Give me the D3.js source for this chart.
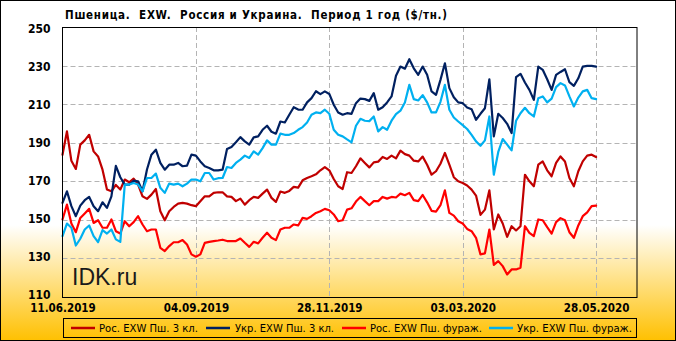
<!DOCTYPE html>
<html><head><meta charset="utf-8">
<script src="https://cdn.jsdelivr.net/npm/d3@7/dist/d3.min.js"></script>
<style>body{margin:0;padding:0;overflow:hidden;background:#fff}</style>
</head><body>
<svg id="chart" width="676" height="341"></svg>
<script>
// ---- data (sampled every 2 trading days, index 0 = 11.06.2019) ----
const step = 2;
const xTickIndex = [0, 60, 120, 180, 240];
const xTickLabels = ["11.06.2019", "04.09.2019", "28.11.2019", "03.03.2020", "28.05.2020"];
const yTicks = [110, 130, 150, 170, 190, 210, 230, 250];
const seriesNames = ["Рос. EXW Пш. 3 кл.", "Укр. EXW Пш. 3 кл.", "Рос. EXW Пш. фураж.", "Укр. EXW Пш. фураж."];
const seriesColors = ["#C00000", "#002060", "#FF0000", "#00B0F0"];

const rus3 = [183.8,195.9,180.6,176.4,189,191.2,194.1,185.5,182.9,176,165.7,164.8,168.1,165.7,170.9,169.5,171.4,168.3,162.2,160.9,163.1,166,154.5,149.8,154.5,156.7,158.4,158.8,158.4,157.6,157.1,159.7,
 162.2,162.2,164,164.3,164.3,162.2,161.9,159.7,161,157.9,160.2,161.9,161.4,163.6,165.7,161.4,159.3,164.7,164,165,167.1,166.7,170.5,171.7,172.6,173.6,175.7,177.4,175.7,171.2,
 167.4,166,174.7,174.3,177.8,181.9,179.5,177.2,179.8,180.2,182.6,181.6,183.3,181.9,185.9,184.1,183.3,180.7,180.3,182.8,178.6,173.4,175.2,179.1,184.7,178.6,172.1,170,169.1,167.8,
 165.7,162.6,152.6,155.3,165.3,145,152.8,148.1,141.2,146.7,144.5,146.7,173.4,170,167.4,178.6,180.3,175.7,172.6,179.5,182.9,180.3,171.7,167.4,175.2,180.3,183.3,183.8,182.6];
const ukr3 = [158.8,164.8,157.1,151.9,157.4,160.2,161.9,157.1,154.5,159.1,156.2,162.2,178,172.1,168.3,168.3,170.3,170,164.8,176.1,183.8,186.4,179.5,176,178.6,178.6,179.5,177.8,178.1,183.8,183.3,180.3,
 177.8,176.9,175.7,175.7,176,186.7,187.8,190.2,192.9,190.7,189,192.8,193.3,196.7,198.8,195.7,194.7,201,200.5,204.5,208.4,207.2,207.1,210.9,213.1,216.7,215.2,216.6,215.3,209.7,
 205.7,204.5,205.3,205,210.5,212.9,212.6,211.7,215.7,207.1,208.4,210.9,214,224.7,229.5,228.4,233.3,228.6,225.2,229.5,225.2,216.6,214.8,222.6,231.2,218.3,213.6,210.9,210.5,208.3,
 207.4,201.9,205,207.9,222.9,193.3,205,202.8,199.8,195,224,225.7,221.2,217.4,212.2,229.5,227.8,222.9,217.4,225.2,226.7,228.1,221.4,219.5,223.4,229.5,229.8,229.8,229.5];
const rusFeed = [150.2,157.9,148.1,143.6,151,153.3,155.7,148.4,149.8,145.9,145.9,150.2,144.1,142.9,149.3,146.7,148.8,151.9,147.6,144.1,145,145,135.5,133.8,136.4,138.4,138.4,139.5,137.2,132.1,130.9,132.1,
 138.1,138.6,139,139.3,139.7,139,139,139,140.3,138.1,136,138.6,137.8,140.7,143.3,140.7,139.5,145,145.9,145.9,147.6,147.1,151,150.5,151.9,153.6,154.5,155.7,155,152.8,
 149.3,149.8,155.3,156,159.5,161.9,159.7,157.6,159.7,159.7,161.9,161,161.9,161.6,163.6,162.8,164,160.2,159.7,162.9,159.1,154.7,154.3,157.6,165.3,153.6,152.2,149.3,148.1,145.3,
 144.1,140.7,132.1,132.6,145,126.7,128.6,126,121.7,124.3,124.3,125.2,146.7,143.3,141.6,150.2,149.8,146.2,142.9,148.8,150.9,149.8,143.6,140.7,147.1,151.9,153.9,157.1,157.4];
const ukrFeed = [141.6,148.1,145.9,136.7,140.2,145,147.1,141.6,138.4,144.7,142.9,145,139.9,138.6,168.3,168.3,169.1,168.3,164.8,171.7,171.7,174,166.6,164,168.8,168.3,168.8,167.4,168.8,170.9,170.9,170,
 174.3,174.3,170.9,171.6,171.7,177.4,176.9,179.5,181.2,183.3,182.1,185.5,183.8,187.2,191.2,189,189,194.7,194.1,194.1,195,196.7,198.1,200.5,204.5,205.7,205.3,207.1,205,196.7,
 194.1,193.3,191.7,190.2,198.8,202.4,201.4,201.2,203.6,195.9,198.1,196.7,201.4,204.8,206.6,210.9,220,212.6,211.9,214.7,210.9,205.7,205.7,211.2,220,207.1,203.1,201,199.1,197.1,
 194.1,190.7,188.4,191.2,203.6,173.4,185.2,191.9,189,186,201.4,205.3,208.1,205.3,203.6,213.1,214,210.9,212.9,218.8,220.9,219.7,214,208.8,213.4,216.6,217.4,213.1,212.6];

const allSeries = [rus3, ukr3, rusFeed, ukrFeed];

// ---- layout ----
const W = 676, H = 341;
const plot = {left: 62.5, right: 637, top: 27, bottom: 297};
const svg = d3.select("#chart");
const defs = svg.append("defs");
const grad = defs.append("linearGradient").attr("id", "bg").attr("x1", 0).attr("y1", 0).attr("x2", 0).attr("y2", 1);
grad.append("stop").attr("offset", "0.66").attr("stop-color", "#FFFFFF");
grad.append("stop").attr("offset", "1").attr("stop-color", "#FFC000");
svg.append("rect").attr("x", 0).attr("y", 0).attr("width", W).attr("height", H).attr("fill", "url(#bg)");

const x = d3.scaleLinear().domain([0, 258.4]).range([plot.left, plot.right]);
const y = d3.scaleLinear().domain([110, 250]).range([plot.bottom, plot.top]);
const yLab = d3.scaleLinear().domain([110, 250]).range([294.5, 28.5]);

const FONT = "'DejaVu Sans Condensed','DejaVu Sans',sans-serif";

// gridlines
svg.append("g").selectAll("line").data(yTicks.filter(d => d > 110 && d < 250)).join("line")
  .attr("x1", plot.left).attr("x2", plot.right)
  .attr("y1", d => Math.round(y(d)) + 0.5).attr("y2", d => Math.round(y(d)) + 0.5)
  .attr("stroke", "#B4B4B4").attr("stroke-width", 1).attr("stroke-dasharray", "5,3");
svg.append("g").selectAll("line").data(xTickIndex.slice(1)).join("line")
  .attr("y1", plot.top).attr("y2", plot.bottom)
  .attr("x1", d => Math.round(x(d)) + 0.5).attr("x2", d => Math.round(x(d)) + 0.5)
  .attr("stroke", "#B4B4B4").attr("stroke-width", 1).attr("stroke-dasharray", "5,3");

// "IDK.ru" watermark
svg.append("text").attr("x", 72).attr("y", 285).text("IDK.ru")
  .attr("font-family", "'Liberation Sans',Arial,sans-serif").attr("font-size", 23).attr("fill", "#1a1a1a");

// series
const line = d3.line().x((d, i) => x(i * step)).y(d => y(d));
allSeries.forEach((s, k) => {
  svg.append("path").datum(s).attr("d", line).attr("fill", "none")
    .attr("stroke", seriesColors[k]).attr("stroke-width", 2.2)
    .attr("stroke-linejoin", "round").attr("stroke-linecap", "round");
});

// plot border
svg.append("rect").attr("x", plot.left).attr("y", plot.top + 0.5)
  .attr("width", plot.right - plot.left).attr("height", plot.bottom - plot.top)
  .attr("fill", "none").attr("stroke", "#000").attr("stroke-width", 1);

// axes
const yAxis = d3.axisLeft(yLab).tickValues(yTicks).tickSize(0).tickPadding(12).tickFormat(d3.format("d"));
const gy = svg.append("g").attr("transform", `translate(${plot.left},0)`).call(yAxis);
gy.select(".domain").remove();
gy.selectAll("text").attr("font-family", FONT).attr("font-weight", "bold").attr("font-size", 12).attr("fill", "#000");

const xAxis = d3.axisBottom(x).tickValues(xTickIndex).tickSize(0).tickPadding(7)
  .tickFormat((d, i) => xTickLabels[i]);
const gx = svg.append("g").attr("transform", `translate(0,${plot.bottom})`).call(xAxis);
gx.select(".domain").remove();
gx.selectAll("text").attr("font-family", FONT).attr("font-weight", "bold").attr("font-size", 11.5).attr("fill", "#000");

// title
svg.append("text").attr("x", 65).attr("y", 19)
  .text("Пшеница.  EXW.  Россия и Украина.  Период 1 год ($/тн.)")
  .attr("xml:space", "preserve").style("white-space", "pre")
  .attr("font-family", FONT).attr("font-weight", "bold").attr("font-size", 11.5)
  .attr("textLength", 382).attr("lengthAdjust", "spacing");

// legend
svg.append("rect").attr("x", 63.5).attr("y", 318.5).attr("width", 573).attr("height", 19)
  .attr("fill", "none").attr("stroke", "#000").attr("stroke-width", 1);
const legendPos = [
  {lx: 71, tx: 99, tw: 99},
  {lx: 206, tx: 235, tw: 99},
  {lx: 342, tx: 370, tw: 112},
  {lx: 489, tx: 517, tw: 115}
];
legendPos.forEach((p, k) => {
  svg.append("line").attr("x1", p.lx).attr("x2", p.lx + 24).attr("y1", 328).attr("y2", 328)
    .attr("stroke", seriesColors[k]).attr("stroke-width", 2.5);
  svg.append("text").attr("x", p.tx).attr("y", 332).text(seriesNames[k])
    .attr("font-family", FONT).attr("font-size", 10.5).attr("fill", "#000")
    .attr("textLength", p.tw).attr("lengthAdjust", "spacingAndGlyphs");
});

// outer border
svg.append("rect").attr("x", 0.5).attr("y", 0.5).attr("width", W - 1).attr("height", H - 1)
  .attr("fill", "none").attr("stroke", "#000").attr("stroke-width", 1);
</script>
</body></html>
